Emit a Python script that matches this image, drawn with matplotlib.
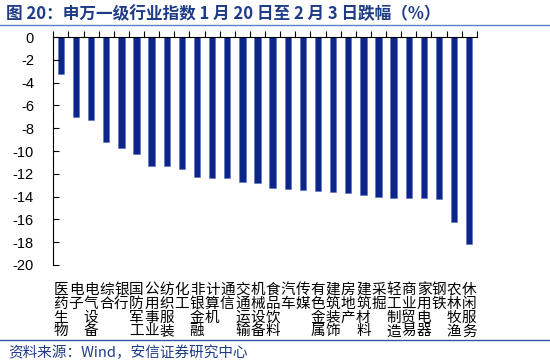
import matplotlib
matplotlib.use("Agg")
import matplotlib.pyplot as plt
import numpy as np

plt.rcParams['font.family'] = ['Noto Sans CJK SC', 'DejaVu Sans']

# --- data -------------------------------------------------------------------
industries = ["医药生物", "电子", "电气设备", "综合", "银行", "国防军工",
              "公用事业", "纺织服装", "化工", "非银金融", "计算机", "通信",
              "交通运输", "机械设备", "食品饮料", "汽车", "传媒", "有色金属",
              "建筑装饰", "房地产", "建筑材料", "采掘", "轻工制造", "商业贸易",
              "家用电器", "钢铁", "农林牧渔", "休闲服务"]
change_pct = [-3.2, -7.0, -7.3, -9.2, -9.7, -10.3, -11.3, -11.3, -11.6,
              -12.3, -12.4, -12.4, -12.7, -12.8, -13.2, -13.3, -13.4, -13.5,
              -13.6, -13.7, -13.9, -14.0, -14.1, -14.1, -14.1, -14.2, -16.2,
              -18.2]
yticks = list(range(-20, 1, 2))

BAR = "#0B2589"
BLUE_DARK = "#1F3C88"

fig = plt.figure(figsize=(5.5, 3.64), dpi=100)
ax = fig.add_axes([0.097, 0.272, 0.770, 0.626])

x = np.arange(len(industries))
ax.bar(x, change_pct, width=0.42, color=BAR, edgecolor="#5A70C0", linewidth=0.4)

ax.set_xlim(-0.5, len(industries) - 0.5)
ax.set_ylim(-20, 0)
ax.set_yticks(yticks)
ax.set_yticklabels([str(v) for v in yticks], family="Liberation Sans", fontsize=10.5)

ax.set_xticks(x)
ax.set_xticklabels(["\n".join(n) for n in industries], fontsize=10.5,
                   linespacing=0.98)
ax.set_xticks(np.arange(-0.5, len(industries)), minor=True)
ax.tick_params(axis="x", which="major", length=0, pad=13)
ax.tick_params(axis="x", which="minor", top=True, bottom=False,
               direction="out", length=4, width=0.8)
ax.tick_params(axis="y", direction="in", length=4, width=0.8, pad=14)

for s in ("right", "bottom"):
    ax.spines[s].set_visible(False)
ax.spines["top"].set_linewidth(0.8)
ax.spines["left"].set_linewidth(0.8)

# header / footer
fig.text(0.010, 0.960, "图 20：申万一级行业指数 1 月 20 日至 2 月 3 日跌幅（%）",
         fontsize=12, fontweight="bold", color=BLUE_DARK, va="center")
fig.add_artist(plt.Line2D([0, 1], [0.932, 0.932], color="#5B7FC4", lw=1.0))
fig.add_artist(plt.Line2D([0, 1], [0.066, 0.066], color="#2F55A4", lw=1.0))
fig.text(0.015, 0.032, "资料来源：Wind，安信证券研究中心", fontsize=10.5,
         color=BLUE_DARK, va="center")

fig.savefig("out.png", dpi=100)
